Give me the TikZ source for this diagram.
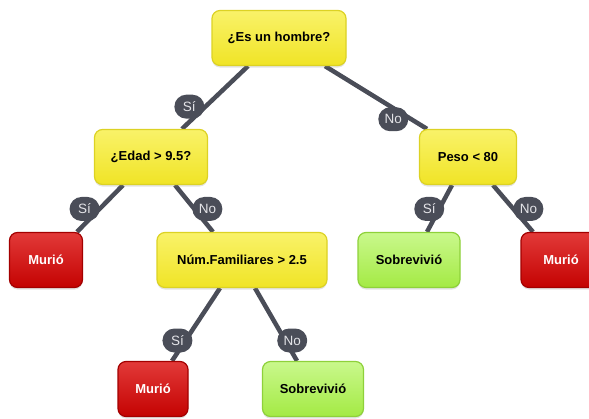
\documentclass[tikz,border=0pt]{standalone}
\usepackage{fontspec}
\setmainfont{Liberation Sans}
\usepackage{tikz}
\usetikzlibrary{shadows,backgrounds}
\definecolor{edgegray}{HTML}{4A4D58}
\definecolor{pilltext}{HTML}{E4E4E8}
\definecolor{yellowtop}{HTML}{F9F269}
\definecolor{yellowbot}{HTML}{F0E426}
\definecolor{yellowline}{HTML}{DCD224}
\definecolor{redtop}{HTML}{E23A38}
\definecolor{redbot}{HTML}{C40202}
\definecolor{redline}{HTML}{A30000}
\definecolor{greentop}{HTML}{C9F88C}
\definecolor{greenbot}{HTML}{A4EA44}
\definecolor{greenline}{HTML}{8ED13A}
\tikzstyle{box}=[draw,line width=1.2pt,rounded corners=8pt,minimum height=55pt,font=\bfseries\fontsize{13}{15}\selectfont,drop shadow={opacity=0.22,shadow xshift=0pt,shadow yshift=-2pt}]

\begin{document}
\begin{tikzpicture}[x=1pt,y=-1pt]

\tikzstyle{question}=[box,draw=yellowline,top color=yellowtop,bottom color=yellowbot,text=black]
\tikzstyle{died}=[box,draw=redline,top color=redtop,bottom color=redbot,text=white]
\tikzstyle{lived}=[box,draw=greenline,top color=greentop,bottom color=greenbot,text=black]
\tikzstyle{answer}=[fill=edgegray,text=pilltext,rounded corners=12pt,minimum height=24pt,minimum width=30pt,inner xsep=5pt,font=\fontsize{13.5}{15}\selectfont]
\tikzstyle{branch}=[edgegray,line width=4.5pt]

\useasboundingbox (0,0) rectangle (589,418);

\node (hombre) [question,minimum width=134pt] at (279,38)  {¿Es un hombre?};
\node (edad)   [question,minimum width=113pt] at (151,157) {¿Edad > 9.5?};
\node (peso)   [question,minimum width=97pt]  at (468,157) {Peso < 80};
\node (murioA) [died,minimum width=73pt]      at (46,260)  {Murió};
\node (familia)[question,minimum width=170pt] at (242,260) {Núm.Familiares > 2.5};
\node (sobreA) [lived,minimum width=102pt]    at (409,260) {Sobrevivió};
\node (murioB) [died,minimum width=80pt]      at (561,260) {Murió};
\node (murioC) [died,minimum width=70pt]      at (153,389) {Murió};
\node (sobreB) [lived,minimum width=101pt]    at (313,389) {Sobrevivió};

\begin{scope}[on background layer]
\draw [branch] ([xshift=-31pt]hombre.south) -- node[answer,pos=0.646,xshift=-16pt] {Sí} ([xshift=31pt]edad.north);
\draw [branch] ([xshift=46pt]hombre.south) -- node[answer,pos=0.846,xshift=-18pt] {No} ([xshift=-41pt]peso.north);
\draw [branch] ([xshift=-28pt]edad.south) -- node[answer,pos=0.51,xshift=-15pt] {Sí} ([xshift=31pt]murioA.north);
\draw [branch] ([xshift=24pt]edad.south) -- node[answer,pos=0.51,xshift=13pt] {No} ([xshift=-29pt]familia.north);
\draw [branch] ([xshift=-16pt]peso.south) -- node[answer,pos=0.51,xshift=-10pt] {Sí} ([xshift=18pt]sobreA.north);
\draw [branch] ([xshift=25pt]peso.south) -- node[answer,pos=0.51,xshift=15pt] {No} ([xshift=-28pt]murioB.north);
\draw [branch] ([xshift=-22pt]familia.south) -- node[answer,pos=0.72,xshift=-8pt] {Sí} ([xshift=19pt]murioC.north);
\draw [branch] ([xshift=13pt]familia.south) -- node[answer,pos=0.72,xshift=7pt] {No} ([xshift=-16pt]sobreB.north);
\end{scope}

\end{tikzpicture}
\end{document}
